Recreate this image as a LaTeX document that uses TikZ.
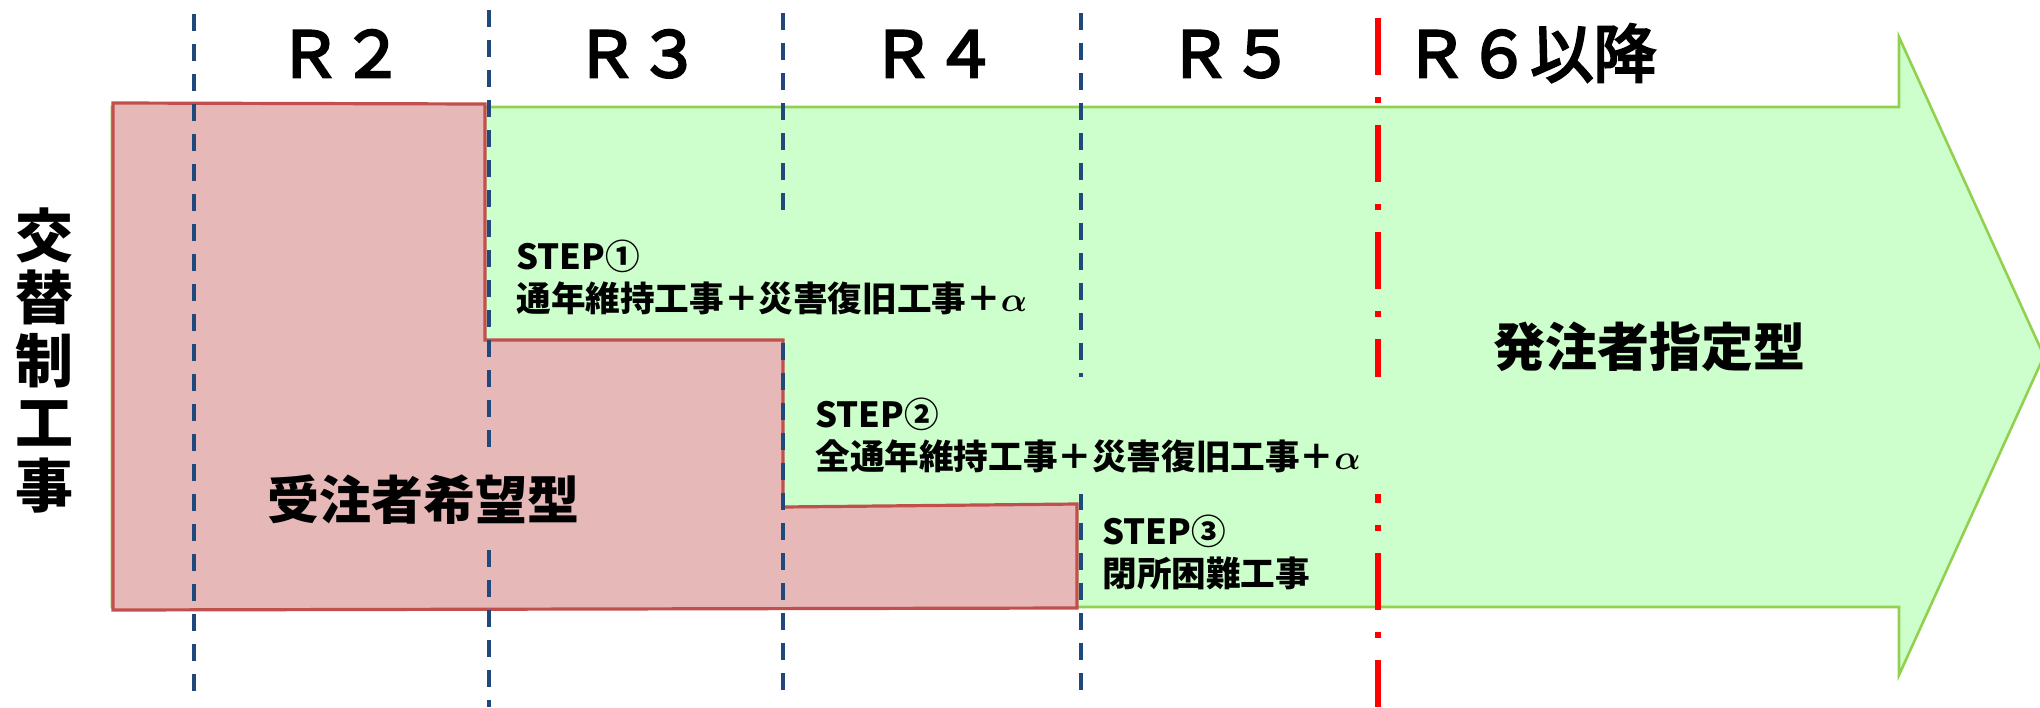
\documentclass[tikz,border=0pt]{standalone}
\usepackage{fontspec}
\newfontfamily\jp{Noto Sans CJK JP}
\newfontfamily\jpmed{Noto Sans CJK JP}[FakeBold=4]
\definecolor{pinkfill}{HTML}{E6B8B7}
\definecolor{pinkdraw}{HTML}{C0504D}
\definecolor{greenfill}{HTML}{CCFFCC}
\definecolor{greendraw}{HTML}{92D050}
\definecolor{bluedash}{HTML}{1F497D}
\definecolor{reddash}{HTML}{FF0000}
\begin{document}
\begin{tikzpicture}[x=0.5pt,y=-0.5pt,
  yearlabel/.style={font=\jpmed\fontsize{31.5}{31.5}\selectfont, inner sep=0pt},
  sidelabel/.style={font=\jp\bfseries\fontsize{29}{31.25}\selectfont, align=center, inner sep=0pt},
  bigtype/.style={font=\jp\bfseries\fontsize{26}{26}\selectfont},
  steptext/.style={font=\jp\bfseries\fontsize{17.3}{21}\selectfont, align=left, anchor=north west, inner xsep=7.5pt, inner ysep=10.5pt},
  yearline/.style={bluedash, line width=2.3pt, dash pattern=on 8.5pt off 6.5pt},
  boundary/.style={reddash, line width=3pt, dash pattern=on 28.5pt off 11pt on 3pt off 11pt},
  bigarrow/.style={fill=greenfill, draw=greendraw, line width=1.3pt, line join=miter},
  ownerarea/.style={fill=pinkfill, draw=pinkdraw, line width=1.6pt}
]
\useasboundingbox (0,0) rectangle (2040,707);

% big green arrow
\draw[bigarrow] (112,107) -- (1899,107) -- (1899,37) -- (2044,356) -- (1899,675) -- (1899,607) -- (112,607) -- cycle;

% pink stepped area
\draw[ownerarea] (113,103) -- (485,104) -- (485,340) -- (783,340) -- (783,507) -- (1077,504) -- (1077,608) -- (113,610) -- cycle;

% year separators
\draw[yearline] (194,14) -- (194,697);
\draw[yearline] (489,10) -- (489,707);
\draw[yearline] (783,13) -- (783,697);
\draw[yearline] (1081,13) -- (1081,697);
\draw[boundary] (1378,18) -- (1378,707);

% year labels
\node[yearlabel, anchor=base] (r2) at (341,77) {Ｒ２};
\node[yearlabel, anchor=base] (r3) at (638,77) {Ｒ３};
\node[yearlabel, anchor=base] (r4) at (934,77) {Ｒ４};
\node[yearlabel, anchor=base] (r5) at (1231,77) {Ｒ５};
\node[yearlabel, anchor=base west] (r6) at (1404,77) {Ｒ６以降};

% side label
\node[sidelabel] (side) at (45,360) {交\\替\\制\\工\\事};

% area labels
\node[bigtype, fill=pinkfill, minimum height=45pt, inner xsep=4pt] (wish) at (423,500) {受注者希望型};
\node[bigtype] (order) at (1649,347) {発注者指定型};

% step labels
\node[steptext, fill=greenfill, text width=262pt] (s1) at (501,219) {STEP①\\通年維持工事＋災害復旧工事＋{\boldmath$\alpha$}};
\node[steptext, fill=greenfill, text width=280pt] (s2) at (800,377) {STEP②\\全通年維持工事＋災害復旧工事＋{\boldmath$\alpha$}};
\node[steptext, text width=110pt] (s3) at (1087,494) {STEP③\\閉所困難工事};
\end{tikzpicture}
\end{document}
